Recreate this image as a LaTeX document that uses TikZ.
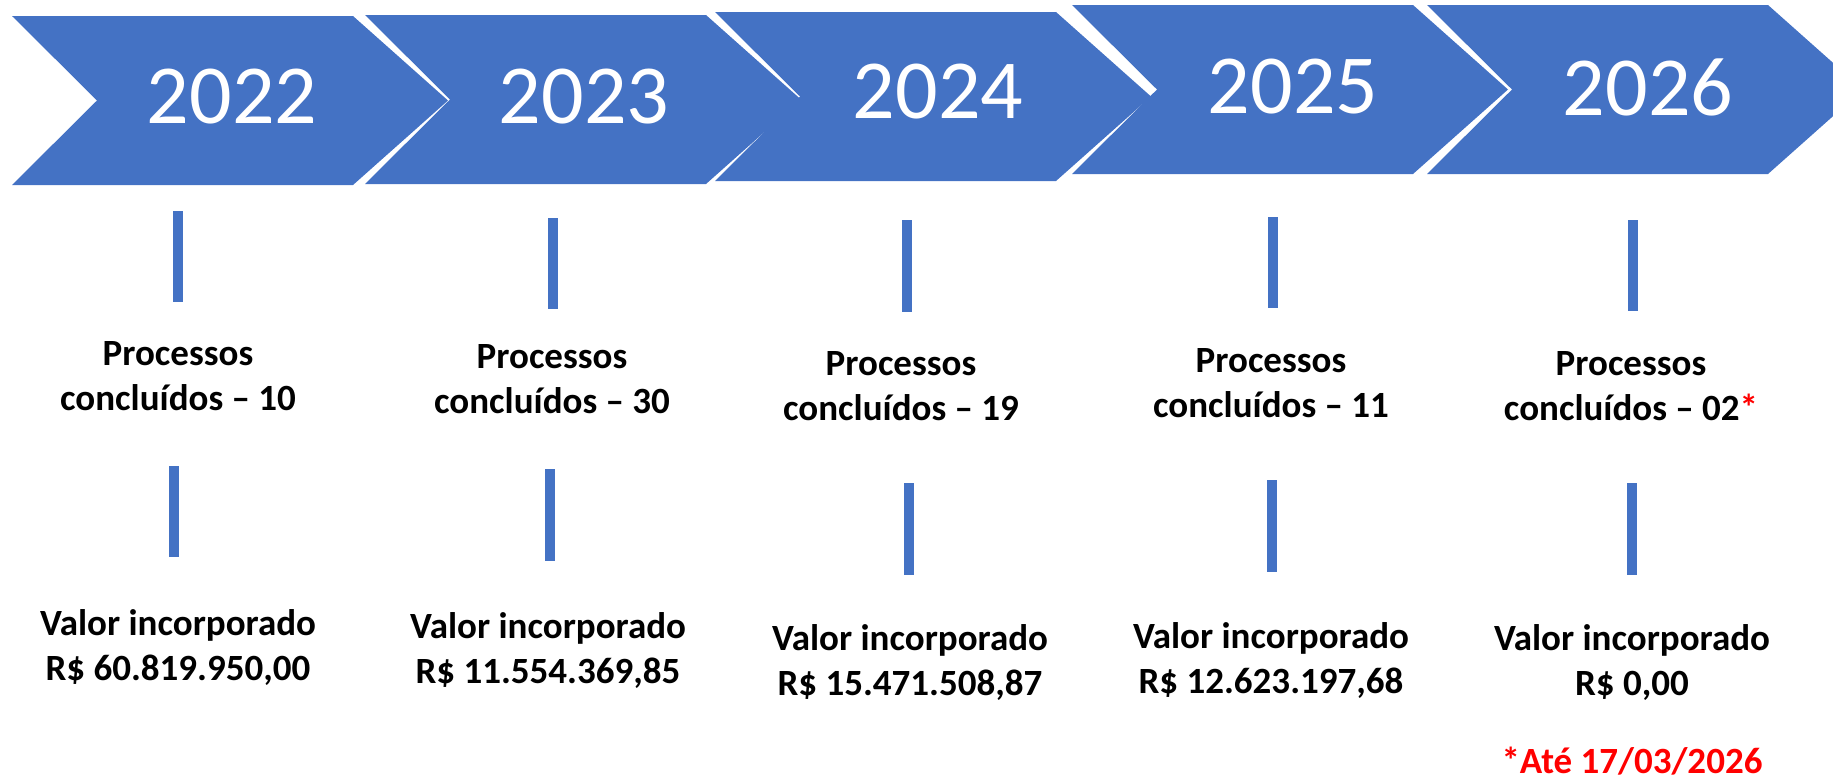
\documentclass[tikz,border=0pt]{standalone}
\usepackage{fontspec}
\setmainfont{Carlito}
\usepackage{xcolor}
\usetikzlibrary{positioning,calc}
\definecolor{chevblue}{HTML}{4472C4}
\definecolor{notered}{HTML}{FF0000}

\begin{document}
\begin{tikzpicture}[x=1pt,y=-1pt]
\tikzset{
    chevron/.style={fill=chevblue},
    year/.style={text=white,inner sep=0pt,font=\fontsize{84}{100}\selectfont},
    info/.style={align=center,inner sep=0pt,anchor=base,font=\fontsize{37}{45}\selectfont\bfseries},
    bar/.style={draw=chevblue,line width=9.5pt}
}
\useasboundingbox (0,0) rectangle (1833,780);
\clip (0,0) rectangle (1833,780);
% chevrons
\foreach \l/\t in {12/16,365/15,715/12,1072/5,1427/5}
  \fill[chevron] (\l,\t) -- ++(341,0) -- ++(95,84.5) -- ++(-95,84.5) -- ++(-341,0) -- ++(85,-84.5) -- cycle;
% years
\node[year] (y22) at (232,97) {2022};
\node[year] (y23) at (584,97) {2023};
\node[year] (y24) at (938,92) {2024};
\node[year] (y25) at (1293,87) {2025};
\node[year] (y26) at (1648,87) {2026};
% bar ends
\coordinate (a22) at (178,211);  \coordinate (b22) at (178,302);
\coordinate (a23) at (553,218);  \coordinate (b23) at (553,309);
\coordinate (a24) at (907,220);  \coordinate (b24) at (907,312);
\coordinate (a25) at (1273,217); \coordinate (b25) at (1273,308);
\coordinate (a26) at (1633,220); \coordinate (b26) at (1633,311);
\coordinate (c22) at (174,466);  \coordinate (d22) at (174,557);
\coordinate (c23) at (550,469);  \coordinate (d23) at (550,561);
\coordinate (c24) at (909,483);  \coordinate (d24) at (909,575);
\coordinate (c25) at (1272,480); \coordinate (d25) at (1272,572);
\coordinate (c26) at (1632,483); \coordinate (d26) at (1632,575);
% processes (base = last line)
\node[info] (proc22) at (178,410) {Processos\\concluídos – 10};
\node[info] (proc23) at (552,413) {Processos\\concluídos – 30};
\node[info] (proc24) at (901,420) {Processos\\concluídos – 19};
\node[info] (proc25) at (1271,417) {Processos\\concluídos – 11};
\node[info] (proc26) at (1631,420) {Processos\\concluídos – 02\textcolor{notered}{*}};
% values
\node[info] (val22) at (178,680) {Valor incorporado\\R\$ 60.819.950,00};
\node[info] (val23) at (548,683) {Valor incorporado\\R\$ 11.554.369,85};
\node[info] (val24) at (910,695) {Valor incorporado\\R\$ 15.471.508,87};
\node[info] (val25) at (1271,693) {Valor incorporado\\R\$ 12.623.197,68};
\node[info] (val26) at (1632,695) {Valor incorporado\\R\$ 0,00};
\node[info,text=notered] (note) at (1632,773) {*Até 17/03/2026};
% bars
\path
(a22) edge[bar] (b22)
(a23) edge[bar] (b23)
(a24) edge[bar] (b24)
(a25) edge[bar] (b25)
(a26) edge[bar] (b26)
(c22) edge[bar] (d22)
(c23) edge[bar] (d23)
(c24) edge[bar] (d24)
(c25) edge[bar] (d25)
(c26) edge[bar] (d26)
;
\end{tikzpicture}
\end{document}
